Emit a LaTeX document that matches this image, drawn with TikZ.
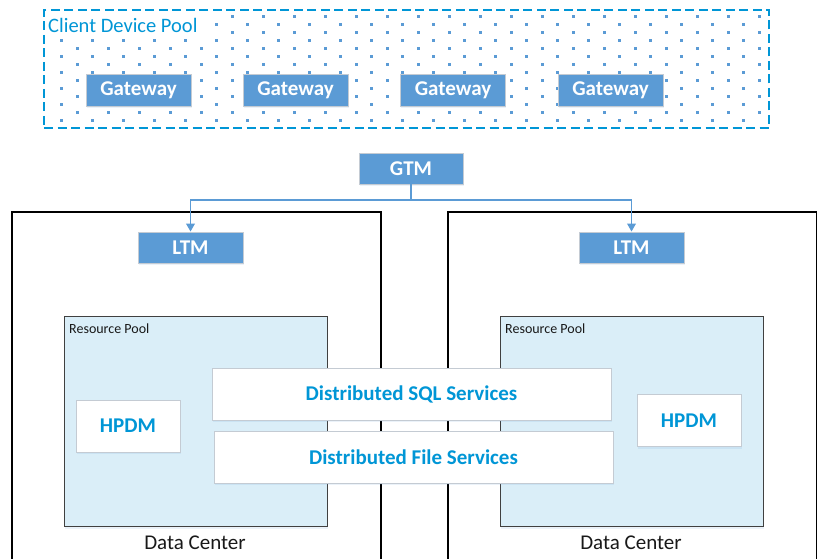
\documentclass[tikz,border=0pt]{standalone}
\usepackage{fontspec}
\setmainfont{Carlito}
\usetikzlibrary{arrows.meta,shadows}
\definecolor{gwblue}{HTML}{5B9BD5}
\definecolor{hpblue}{HTML}{0096D6}
\definecolor{poolfill}{HTML}{DAEEF8}
\definecolor{boxgray}{HTML}{C4CBD3}
\definecolor{dotc}{HTML}{5B9BD5}
\begin{document}
\begin{tikzpicture}[x=1pt,y=-1pt,
  softshadow/.style={drop shadow={shadow xshift=0.5pt, shadow yshift=-2pt, opacity=0.12, fill=gwblue}},
  bluebox/.style={fill=gwblue, draw=boxgray, line width=0.8pt, inner sep=0pt, text=white,
    font=\bfseries\fontsize{21}{24}\selectfont, minimum width=105pt, minimum height=32pt, softshadow},
  whitebox/.style={fill=white, draw=boxgray, line width=0.8pt, inner sep=0pt, text=hpblue,
    font=\bfseries\fontsize{21}{24}\selectfont, minimum height=52pt, softshadow},
  dcbox/.style={draw=black, line width=1.6pt, anchor=north west, inner sep=0pt},
  pool/.style={fill=poolfill, draw=black!75, line width=1pt, anchor=north west, inner sep=0pt,
    minimum width=263pt, minimum height=210pt, softshadow},
  link/.style={draw=gwblue, line width=1.8pt, -{Triangle[length=8pt,width=8.5pt]}},
  plain/.style={font=\fontsize{21}{24}\selectfont, text=black!90, inner sep=0pt},
  small/.style={font=\fontsize{14}{16}\selectfont, text=black!90, inner sep=0pt, anchor=base west},
]
\useasboundingbox (0,0) rectangle (817,559);
\fill[white] (0,0) rectangle (817,559);
\clip (0,0) rectangle (817,559);

% Client device pool
\fill[white] (43,9) rectangle (768,127);
\foreach \i in {0,...,13}{
  \pgfmathsetmacro{\yy}{16.7+7.95*\i}
  \pgfmathsetmacro{\xs}{77-15.3*mod(\i,2)}
  \foreach \j in {0,...,22}{
    \fill[dotc] (\xs+31*\j-1.5,\yy-1.5) rectangle ++(3,3);
  }
}
\fill[white] (45,11) rectangle (212,37);
\node[anchor=base west, inner sep=0pt, text=hpblue, font=\fontsize{20.5}{24}\selectfont] (pooltitle) at (48,33) {Client Device Pool};
\node[draw=hpblue, dash pattern=on 9pt off 4.5pt, line width=2pt, minimum width=725pt, minimum height=118pt, anchor=north west, inner sep=0pt] (cdp) at (43,9) {};

\node[bluebox] (gw1) at (138.5,90) {Gateway};
\node[bluebox] (gw2) at (295.5,90) {Gateway};
\node[bluebox] (gw3) at (453,90) {Gateway};
\node[bluebox] (gw4) at (610.5,90) {Gateway};

% Data centers
\node[dcbox, minimum width=369pt, minimum height=370pt] (dc1) at (11,211) {};
\node[dcbox, minimum width=369pt, minimum height=370pt] (dc2) at (447,211) {};
\node[plain] (dc1lbl) at (195,543) {Data Center};
\node[plain] (dc2lbl) at (631,543) {Data Center};

% GTM / LTM
\node[bluebox, minimum width=104pt, minimum height=31pt] (gtm) at (411,168.5) {GTM};
\node[bluebox, minimum height=31pt] (ltm1) at (190.5,247.5) {LTM};
\node[bluebox, minimum height=31pt] (ltm2) at (631.5,247.5) {LTM};
\draw[link] (gtm.south) -- ++(0,15.5) -| (ltm1.north);
\draw[link] (gtm.south) -- ++(0,15.5) -| (ltm2.north);

% Resource pools
\node[pool] (pool1) at (64,316) {};
\node[pool] (pool2) at (500,316) {};
\node[small] (pool1lbl) at (69,333) {Resource Pool};
\node[small] (pool2lbl) at (505,333) {Resource Pool};

\node[whitebox, minimum width=104pt] (hpdm1) at (128,426) {HPDM};
\node[whitebox, minimum width=104pt] (hpdm2) at (689,420.5) {HPDM};

\node[whitebox, minimum width=399pt] (sql) at (411.5,394) {Distributed SQL Services};
\node[whitebox, minimum width=399pt] (dfs) at (413.5,457) {Distributed File Services};
\end{tikzpicture}
\end{document}
